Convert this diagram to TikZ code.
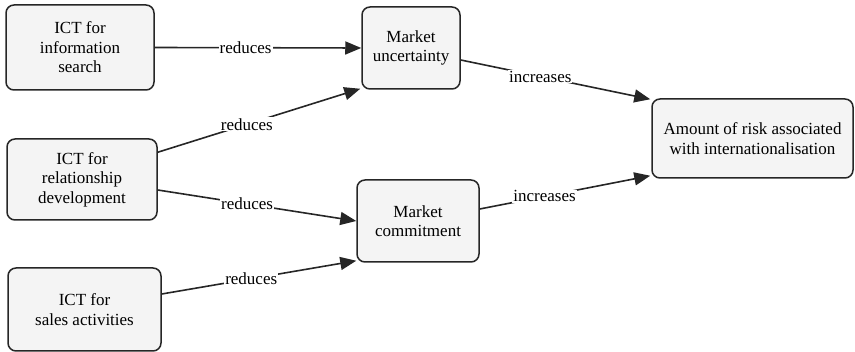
\documentclass[tikz,border=0pt]{standalone}
\usepackage{fontspec}
\setmainfont{Liberation Serif}
\usetikzlibrary{arrows.meta,calc}
\definecolor{boxfill}{HTML}{F4F4F4}
\begin{document}
\begin{tikzpicture}[x=1pt,y=-1pt,
  box/.style={draw=black!85, line width=1.5pt, rounded corners=8pt, fill=boxfill,
    align=center, inner sep=2pt, font=\fontsize{17}{19.5}\selectfont},
  conn/.style={draw=black!85, line width=1.6pt, -{Triangle[length=16pt,width=13pt]}},
  lbl/.style={fill=white, inner sep=1pt, font=\fontsize{17}{19.5}\selectfont}]
\useasboundingbox (0,0) rectangle (855,352);
\node[box, minimum width=148pt, minimum height=85pt] (A) at (80,47.5) {ICT for\\information\\search};
\node[box, minimum width=150pt, minimum height=81pt] (B) at (82,179.5) {ICT for\\relationship\\development};
\node[box, minimum width=153pt, minimum height=83pt] (C) at (84.5,309.5) {ICT for\\sales activities};
\node[box, minimum width=98pt, minimum height=82pt] (M1) at (411,48) {Market\\uncertainty};
\node[box, minimum width=122pt, minimum height=82pt] (M2) at (418,221) {Market\\commitment};
\node[box, minimum width=201pt, minimum height=79pt] (R) at (752.5,138.5) {Amount of risk associated\\with internationalisation};

\draw[conn] (A.east) -- node[lbl, pos=0.44] {reduces} (M1.west);
\draw[conn] ($(B.north east)+(0,14)$) -- node[lbl, pos=0.44] {reduces} ($(M1.south west)+(-1,-1)$);
\draw[conn] ($(B.east)+(0,10.5)$) -- node[lbl, pos=0.45] {reduces} (M2.west);
\draw[conn] ($(C.east)+(0,-15.5)$) -- node[lbl, pos=0.46] {reduces} ($(M2.south west)+(0,-2)$);
\draw[conn] ($(M1.east)+(0,12)$) -- node[lbl, pos=0.42] {increases} ($(R.north west)+(-1,1)$);
\draw[conn] ($(M2.east)+(0,-12)$) -- node[lbl, pos=0.38] {increases} ($(R.south west)+(-1,-3)$);
\end{tikzpicture}
\end{document}
